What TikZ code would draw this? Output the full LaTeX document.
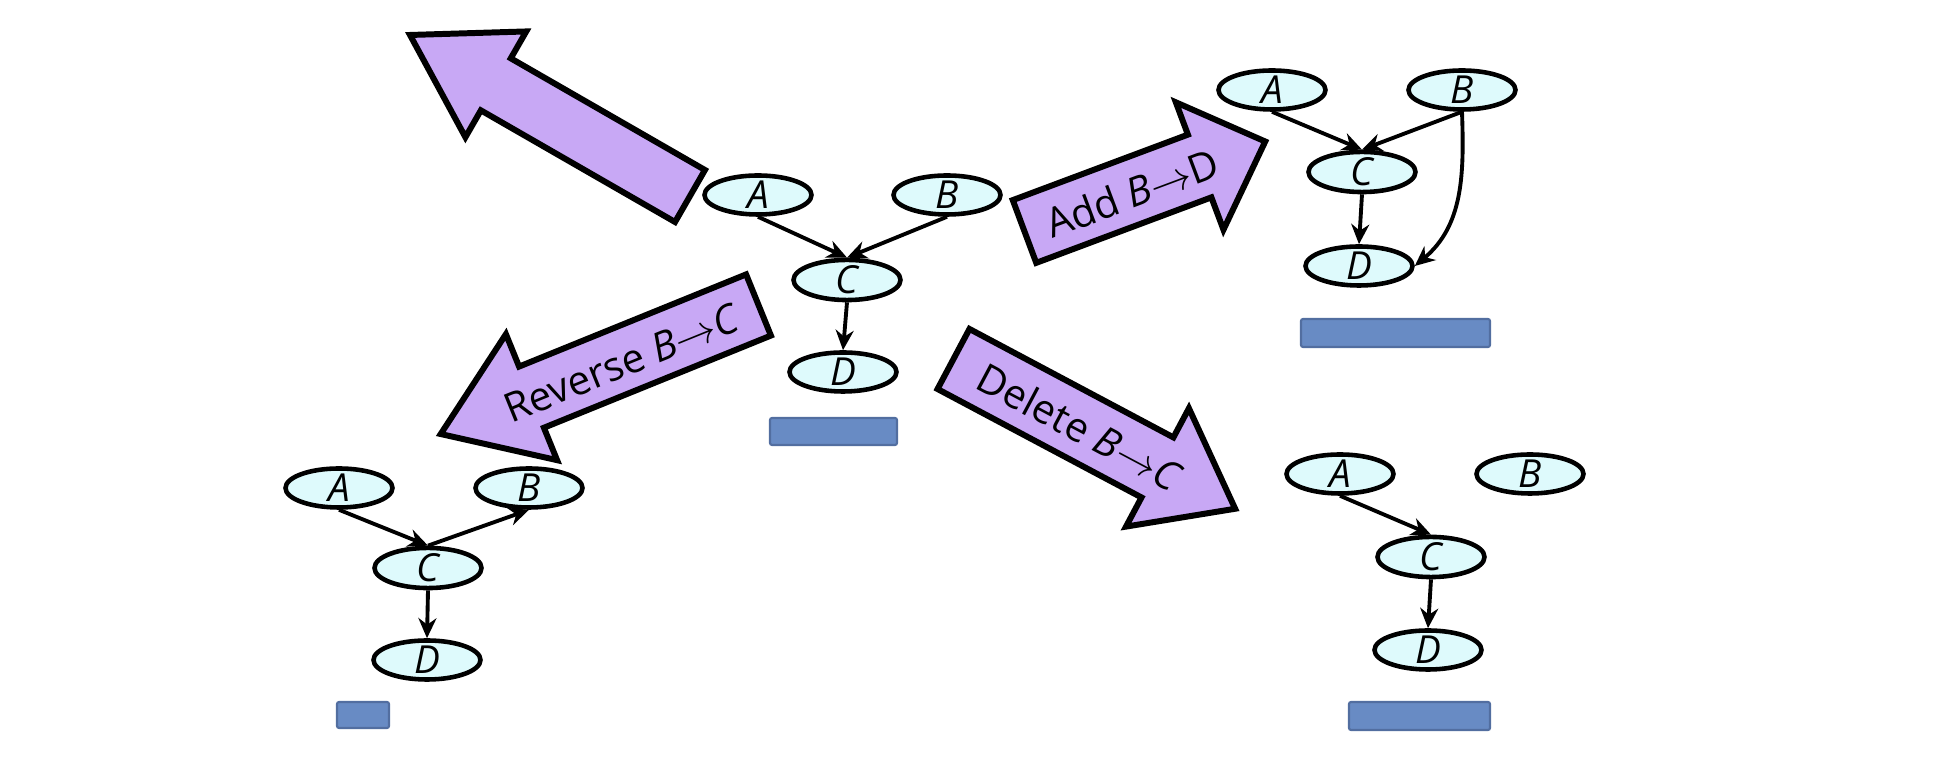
\documentclass[tikz,border=0pt]{standalone}
\usepackage{fontspec}
\setmainfont{Open Sans}
\usetikzlibrary{shapes.geometric,arrows.meta}

\definecolor{varcyan}{RGB}{222,250,252}
\definecolor{oppurple}{RGB}{200,168,245}
\definecolor{scoreblue}{RGB}{104,139,196}
\definecolor{scoreedge}{RGB}{82,110,160}

\tikzset{
  var/.style={ellipse, draw, fill=varcyan, line width=1.3pt,
    minimum width=10.7mm, minimum height=3.4mm, inner sep=0pt,
    font=\fontsize{11}{11}\selectfont\itshape},
  dep/.style={line width=1.1pt, -{Stealth[length=2mm,width=1.8mm]}},
  oparrow/.style={draw, fill=oppurple, line width=1.7pt, line join=miter},
  oplabel/.style={inner sep=0pt, font=\fontsize{11.5}{11.5}\selectfont},
  score/.style={fill=scoreblue, draw=scoreedge, line width=0.6pt, rounded corners=0.2mm}
}

\begin{document}
\begin{tikzpicture}[x=0.1mm, y=0.1mm]
  \useasboundingbox (0,0) rectangle (1952,-774);

  % Operator arrows
  \foreach \x/\y/\ang/\len/\neck/\w/\hw in {690/-196/150.1/323/224/30/61,
      1024.5/-231.5/20.5/257/187/33.5/68, 758.5/-305/202.1/343/245/33/68,
      953.5/-359/-28/319/231/34/67} {
    \draw[oparrow, shift={(\x,\y)}, rotate=\ang]
      (0,-\w) -- (\neck,-\w) -- (\neck,-\hw) -- (\len,0) -- (\neck,\hw)
      -- (\neck,\w) -- (0,\w) -- cycle;
  }
  \node[oplabel, rotate=20.5] (addlbl) at (1132,-193) {Add \textit{B}$\to$D};
  \node[oplabel, rotate=22.1] (revlbl) at (622,-363) {Reverse \textit{B}$\to$\textit{C}};
  \node[oplabel, rotate=-28] (dellbl) at (1080,-427) {Delete \textit{B}$\to$\textit{C}};

  % Current network
  \node[var] (mA) at (758,-195) {A};
  \node[var] (mB) at (947,-195) {B};
  \node[var] (mC) at (847,-280) {C};
  \node[var] (mD) at (843,-372) {D};
  \draw[dep] (mA.south) -- (mC.north);
  \draw[dep] (mB.south) -- (mC.north);
  \draw[dep] (mC.south) -- (mD.north);
  \draw[score] (770,-418) rectangle (897,-445);

  % After adding B->D
  \node[var] (aA) at (1272,-90) {A};
  \node[var] (aB) at (1462,-90) {B};
  \node[var] (aC) at (1362,-172) {C};
  \node[var] (aD) at (1359,-266) {D};
  \draw[dep] (aA.south) -- (aC.north);
  \draw[dep] (aB.south) -- (aC.north);
  \draw[dep] (aC.south) -- (aD.north);
  \draw[dep] (aB.south) to[out=-88, in=40] (aD.east);
  \draw[score] (1301,-319) rectangle (1490,-347);

  % After reversing B->C
  \node[var] (rA) at (339,-488) {A};
  \node[var] (rB) at (529,-488) {B};
  \node[var] (rC) at (428,-568) {C};
  \node[var] (rD) at (427,-660) {D};
  \draw[dep] (rA.south) -- (rC.north);
  \draw[dep] (rC.north) -- (rB.south);
  \draw[dep] (rC.south) -- (rD.north);
  \draw[score] (337,-702) rectangle (389,-728);

  % After deleting B->C
  \node[var] (dA) at (1340,-474) {A};
  \node[var] (dB) at (1530,-474) {B};
  \node[var] (dC) at (1431,-557) {C};
  \node[var] (dD) at (1428,-650) {D};
  \draw[dep] (dA.south) -- (dC.north);
  \draw[dep] (dC.south) -- (dD.north);
  \draw[score] (1349,-702) rectangle (1490,-730);
\end{tikzpicture}
\end{document}
